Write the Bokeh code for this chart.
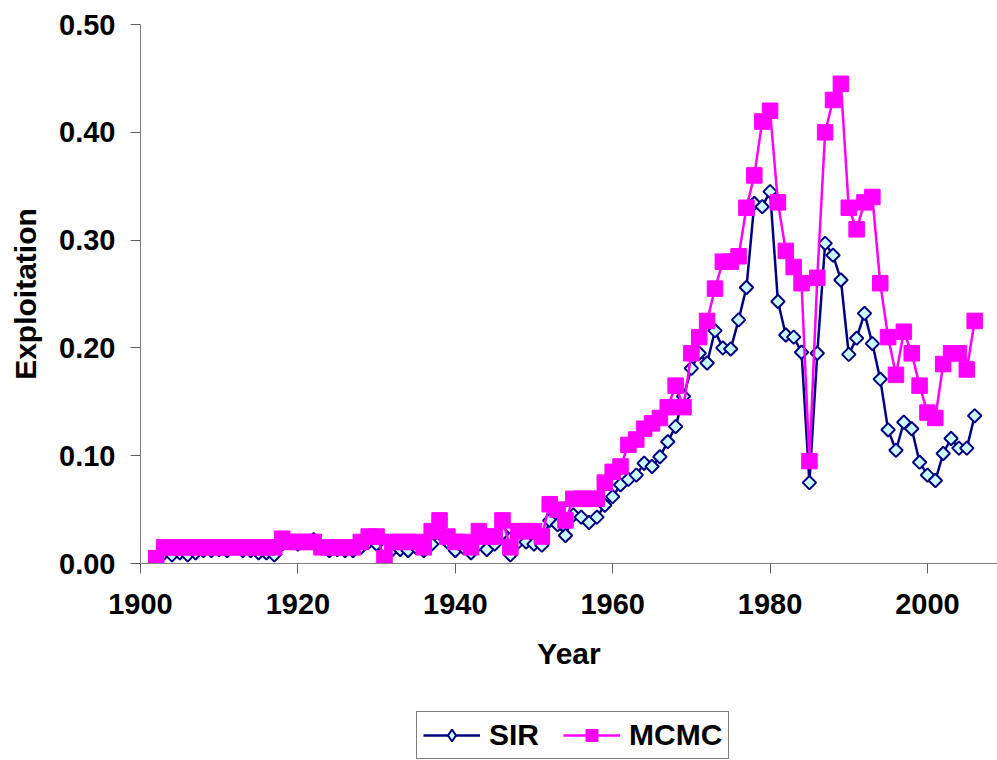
import math
from bokeh.plotting import figure
from bokeh.layouts import column
from bokeh.models import Range1d, FixedTicker, PrintfTickFormatter, Legend, LegendItem
from bokeh.embed import file_html
from bokeh.resources import INLINE

years = list(range(1902, 2007))

sir = [
    0.002, 0.010, 0.008, 0.010, 0.008, 0.010, 0.012, 0.012, 0.013, 0.012,  # 1902-1911
    0.015, 0.012, 0.012, 0.010, 0.010, 0.008, 0.018, 0.020, 0.018, 0.020,  # 1912-1921
    0.022, 0.015, 0.012, 0.013, 0.012, 0.012, 0.015, 0.020, 0.018, 0.002,  # 1922-1931
    0.013, 0.013, 0.012, 0.015, 0.012, 0.018, 0.028, 0.020, 0.012, 0.015,  # 1932-1941
    0.010, 0.018, 0.013, 0.018, 0.028, 0.008, 0.020, 0.020, 0.018, 0.017,  # 1942-1951
    0.040, 0.036, 0.026, 0.045, 0.043, 0.038, 0.043, 0.054, 0.062, 0.073,  # 1952-1961
    0.078, 0.082, 0.093, 0.090, 0.099, 0.113, 0.127, 0.155, 0.181, 0.195,  # 1962-1971
    0.186, 0.216, 0.200, 0.199, 0.226, 0.256, 0.334, 0.331, 0.345, 0.243,  # 1972-1981
    0.212, 0.210, 0.196, 0.075, 0.195, 0.297, 0.286, 0.263, 0.194, 0.209,  # 1982-1991
    0.232, 0.204, 0.171, 0.124, 0.105, 0.131, 0.125, 0.094, 0.082, 0.077,  # 1992-2001
    0.102, 0.116, 0.107, 0.107, 0.137,                                     # 2002-2006
]

mcmc = [
    0.005, 0.015, 0.015, 0.015, 0.015, 0.015, 0.015, 0.015, 0.015, 0.015,  # 1902-1911
    0.015, 0.015, 0.015, 0.015, 0.015, 0.015, 0.023, 0.020, 0.020, 0.020,  # 1912-1921
    0.020, 0.015, 0.015, 0.015, 0.015, 0.015, 0.020, 0.025, 0.025, 0.005,  # 1922-1931
    0.020, 0.020, 0.020, 0.020, 0.015, 0.030, 0.040, 0.025, 0.020, 0.020,  # 1932-1941
    0.015, 0.030, 0.025, 0.025, 0.040, 0.015, 0.030, 0.030, 0.030, 0.025,  # 1942-1951
    0.055, 0.050, 0.040, 0.060, 0.060, 0.060, 0.060, 0.075, 0.085, 0.090,  # 1952-1961
    0.110, 0.115, 0.125, 0.130, 0.135, 0.145, 0.165, 0.145, 0.195, 0.210,  # 1962-1971
    0.225, 0.255, 0.280, 0.280, 0.285, 0.330, 0.360, 0.410, 0.420, 0.335,  # 1972-1981
    0.290, 0.275, 0.260, 0.095, 0.265, 0.400, 0.430, 0.445, 0.330, 0.310,  # 1982-1991
    0.335, 0.340, 0.260, 0.210, 0.175, 0.215, 0.195, 0.165, 0.140, 0.135,  # 1992-2001
    0.185, 0.195, 0.195, 0.180, 0.225,                                     # 2002-2006
]

series_names = ["SIR", "MCMC"]
x_ticks = [1900, 1920, 1940, 1960, 1980, 2000]
y_ticks = [0.0, 0.1, 0.2, 0.3, 0.4, 0.5]

FONT = "Liberation Sans"
NAVY, CYAN, MAGENTA = "#000080", "#CCFFFF", "#FF00FF"
SIR_LINE = dict(line_color=NAVY, line_width=2.5)
SIR_MARK = dict(marker="square", angle=math.pi / 4, size=9.5,
                fill_color=CYAN, line_color=NAVY, line_width=2)
MC_LINE = dict(line_color=MAGENTA, line_width=2.5)
MC_MARK = dict(marker="square", size=15.5, fill_color=MAGENTA,
               line_color=MAGENTA, line_width=1)

p = figure(
    width=997, height=700,
    x_range=Range1d(1900, 2008.9), y_range=Range1d(0, 0.5),
    output_backend="svg", toolbar_location=None,
    min_border_left=140, min_border_top=24, min_border_right=0, min_border_bottom=137,
)
p.outline_line_color = None
p.xgrid.visible = False
p.ygrid.visible = False

p.line(years, sir, **SIR_LINE)
p.scatter(years, sir, **SIR_MARK)
p.line(years, mcmc, **MC_LINE)
p.scatter(years, mcmc, **MC_MARK)

for ax in (p.xaxis[0], p.yaxis[0]):
    ax.axis_line_color = "#808080"
    ax.axis_line_width = 1
    ax.major_tick_line_color = "#606060"
    ax.major_tick_in = 0
    ax.major_tick_out = 10
    ax.minor_tick_line_color = None
    ax.major_label_text_font = FONT
    ax.major_label_text_font_style = "bold"
    ax.major_label_text_font_size = "29px"
    ax.major_label_text_color = "black"
    ax.axis_label_text_font = FONT
    ax.axis_label_text_font_style = "bold"
    ax.axis_label_text_font_size = "30px"
    ax.axis_label_text_color = "black"

p.xaxis[0].ticker = FixedTicker(ticks=x_ticks)
p.xaxis[0].major_label_standoff = 20
p.xaxis[0].axis_label = "Year"
p.xaxis[0].axis_label_standoff = 20

p.yaxis[0].ticker = FixedTicker(ticks=y_ticks)
p.yaxis[0].formatter = PrintfTickFormatter(format="%.2f")
p.yaxis[0].major_label_standoff = 15
p.yaxis[0].axis_label = "Exploitation"
p.yaxis[0].axis_label_standoff = 14

# legend strip below the chart (its series lie outside its view range)
q = figure(
    width=997, height=60, x_range=Range1d(0, 1), y_range=Range1d(0, 1),
    output_backend="svg", toolbar_location=None,
    x_axis_type=None, y_axis_type=None,
    min_border_left=0, min_border_right=0, min_border_top=0, min_border_bottom=0,
)
q.outline_line_color = None
q.xgrid.visible = False
q.ygrid.visible = False
l1 = q.line(years, sir, **SIR_LINE)
m1 = q.scatter(years, sir, marker="diamond", size=17, fill_color=CYAN,
               line_color=NAVY, line_width=2)
l2 = q.line(years, mcmc, **MC_LINE)
m2 = q.scatter(years, mcmc, **MC_MARK)

legend = Legend(
    items=[LegendItem(label=series_names[0], renderers=[l1, m1]),
           LegendItem(label=series_names[1], renderers=[l2, m2])],
    orientation="horizontal",
    location=(276, 1),
    border_line_color="black", border_line_width=1,
    background_fill_color="white", background_fill_alpha=1,
    label_text_font=FONT, label_text_font_style="bold", label_text_font_size="30px",
    label_text_color="black",
    glyph_width=57, glyph_height=30, label_standoff=9, spacing=24,
    padding=6, margin=0,
)
q.add_layout(legend, "center")

layout = column(p, q, spacing=0)
open("out.html", "w").write(file_html(layout, INLINE))
